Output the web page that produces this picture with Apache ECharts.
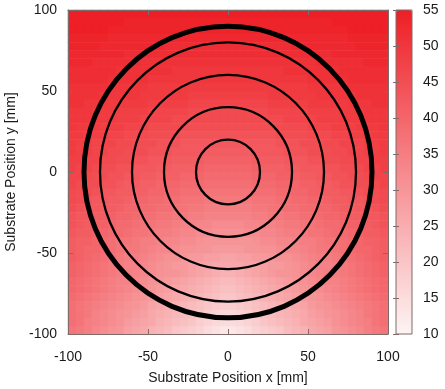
<!DOCTYPE html>
<html><head><meta charset="utf-8">
<script src="https://cdn.jsdelivr.net/npm/echarts@6/dist/echarts.min.js"></script>
<style>html,body{margin:0;padding:0;background:#fff}#c{width:445px;height:389px}</style>
</head><body><div id="c"></div>
<script>
// cell centres of the map (mm)
const xCenters = [-97.5,-92.5,-87.5,-82.5,-77.5,-72.5,-67.5,-62.5,-57.5,-52.5,-47.5,-42.5,-37.5,-32.5,-27.5,-22.5,-17.5,-12.5,-7.5,-2.5,
                  2.5,7.5,12.5,17.5,22.5,27.5,32.5,37.5,42.5,47.5,52.5,57.5,62.5,67.5,72.5,77.5,82.5,87.5,92.5,97.5];
const yCenters = [-97.5,-92.5,-87.5,-82.5,-77.5,-72.5,-67.5,-62.5,-57.5,-52.5,-47.5,-42.5,-37.5,-32.5,-27.5,-22.5,-17.5,-12.5,-7.5,-2.5,
                  2.5,7.5,12.5,17.5,22.5,27.5,32.5,37.5,42.5,47.5,52.5,57.5,62.5,67.5,72.5,77.5,82.5,87.5,92.5,97.5];
// estimated map values, one row per yCenters entry (bottom to top), left to right
const yM975 = [37,36,35,33,32,31,30,28,27,26,24,23,22,20,19,18,17,15,14,13,13,14,15,17,18,19,20,22,23,24,26,27,28,30,31,32,33,35,36,37];
const yM925 = [38,37,35,34,33,32,31,29,28,27,26,24,23,22,21,20,18,17,16,15,15,16,17,18,20,21,22,23,24,26,27,28,29,31,32,33,34,35,37,38];
const yM875 = [38,37,36,34,33,32,31,30,29,28,26,25,24,23,22,21,20,18,17,16,16,17,18,20,21,22,23,24,25,26,28,29,30,31,32,33,34,36,37,38];
const yM825 = [38,37,36,35,34,33,32,31,30,29,27,26,25,24,23,22,21,20,19,18,18,19,20,21,22,23,24,25,26,27,29,30,31,32,33,34,35,36,37,38];
const yM775 = [39,38,37,36,35,34,33,32,31,30,29,28,27,26,25,24,23,22,21,20,20,21,22,23,24,25,26,27,28,29,30,31,32,33,34,35,36,37,38,39];
const yM725 = [40,39,38,37,36,35,34,33,32,31,30,29,28,27,26,25,24,23,22,21,21,22,23,24,25,26,27,28,29,30,31,32,33,34,35,36,37,38,39,40];
const yM675 = [40,39,38,37,36,35,34,34,33,32,31,30,29,28,27,26,25,24,23,22,22,23,24,25,26,27,28,29,30,31,32,33,34,34,35,36,37,38,39,40];
const yM625 = [41,40,39,38,37,36,35,35,34,33,32,31,30,30,29,28,27,26,25,24,24,25,26,27,28,29,30,30,31,32,33,34,35,35,36,37,38,39,40,41];
const yM575 = [41,40,39,38,37,36,35,34,34,33,32,31,30,29,29,28,27,27,26,26,26,26,27,27,28,29,29,30,31,32,33,34,34,35,36,37,38,39,40,41];
const yM525 = [42,41,40,39,38,37,36,35,35,34,33,32,31,31,30,29,29,28,28,27,27,28,28,29,29,30,31,31,32,33,34,35,35,36,37,38,39,40,41,42];
const yM475 = [42,41,40,40,39,38,37,36,36,35,34,33,33,32,31,31,30,30,29,29,29,29,30,30,31,31,32,33,33,34,35,36,36,37,38,39,40,40,41,42];
const yM425 = [42,41,41,40,39,38,37,37,36,35,35,34,33,33,32,32,31,30,30,30,30,30,30,31,32,32,33,33,34,35,35,36,37,37,38,39,40,41,41,42];
const yM375 = [43,42,42,41,40,39,39,38,37,37,36,35,35,34,33,33,32,32,31,31,31,31,32,32,33,33,34,35,35,36,37,37,38,39,39,40,41,42,42,43];
const yM325 = [44,43,42,41,41,40,39,39,38,37,37,36,36,35,34,34,33,33,32,32,32,32,33,33,34,34,35,36,36,37,37,38,39,39,40,41,41,42,43,44];
const yM275 = [44,43,43,42,42,41,40,40,39,38,38,37,37,36,36,35,35,34,34,34,34,34,34,35,35,36,36,37,37,38,38,39,40,40,41,42,42,43,43,44];
const yM225 = [45,44,43,43,42,42,41,40,40,39,39,38,38,37,37,36,36,35,35,35,35,35,35,36,36,37,37,38,38,39,39,40,40,41,42,42,43,43,44,45];
const yM175 = [46,45,44,43,43,42,42,41,40,40,39,39,38,38,37,37,37,36,36,36,36,36,36,37,37,37,38,38,39,39,40,40,41,42,42,43,43,44,45,46];
const yM125 = [46,45,45,44,43,43,42,42,41,41,40,40,39,39,38,38,38,37,37,37,37,37,37,38,38,38,39,39,40,40,41,41,42,42,43,43,44,45,45,46];
const yM075 = [47,46,45,45,44,44,43,42,42,41,41,40,40,40,39,39,39,38,38,38,38,38,38,39,39,39,40,40,40,41,41,42,42,43,44,44,45,45,46,47];
const yM025 = [47,47,46,45,45,44,44,43,43,42,42,41,41,41,40,40,40,39,39,39,39,39,39,40,40,40,41,41,41,42,42,43,43,44,44,45,45,46,47,47];
const yP025 = [48,47,47,46,45,45,44,44,43,43,43,42,42,41,41,41,41,40,40,40,40,40,40,41,41,41,41,42,42,43,43,43,44,44,45,45,46,47,47,48];
const yP075 = [48,48,47,47,46,46,45,45,44,44,43,43,43,42,42,42,42,41,41,41,41,41,41,42,42,42,42,43,43,43,44,44,45,45,46,46,47,47,48,48];
const yP125 = [49,48,48,47,47,46,46,45,45,45,44,44,44,43,43,43,43,42,42,42,42,42,42,43,43,43,43,44,44,44,45,45,45,46,46,47,47,48,48,49];
const yP175 = [49,48,48,47,47,47,46,46,45,45,45,44,44,44,43,43,43,43,43,43,43,43,43,43,43,43,44,44,44,45,45,45,46,46,47,47,47,48,48,49];
const yP225 = [49,49,48,48,48,47,47,46,46,46,45,45,45,45,44,44,44,44,44,44,44,44,44,44,44,44,45,45,45,45,46,46,46,47,47,48,48,48,49,49];
const yP275 = [50,49,49,49,48,48,48,47,47,47,46,46,46,46,45,45,45,45,45,45,45,45,45,45,45,45,46,46,46,46,47,47,47,48,48,48,49,49,49,50];
const yP325 = [50,50,50,49,49,49,48,48,48,47,47,47,47,46,46,46,46,46,46,46,46,46,46,46,46,46,46,47,47,47,47,48,48,48,49,49,49,50,50,50];
const yP375 = [50,50,50,49,49,49,48,48,48,48,47,47,47,47,47,46,46,46,46,46,46,46,46,46,46,47,47,47,47,47,48,48,48,48,49,49,49,50,50,50];
const yP425 = [51,51,50,50,50,49,49,49,49,49,48,48,48,48,48,47,47,47,47,47,47,47,47,47,47,48,48,48,48,48,49,49,49,49,49,50,50,50,51,51];
const yP475 = [51,51,51,51,50,50,50,50,50,49,49,49,49,49,49,48,48,48,48,48,48,48,48,48,48,49,49,49,49,49,49,50,50,50,50,50,51,51,51,51];
const yP525 = [51,51,51,51,51,50,50,50,50,50,49,49,49,49,49,49,49,49,49,49,49,49,49,49,49,49,49,49,49,49,50,50,50,50,50,51,51,51,51,51];
const yP575 = [52,52,52,52,52,51,51,51,51,51,50,50,50,50,50,50,50,50,50,50,50,50,50,50,50,50,50,50,50,50,51,51,51,51,51,52,52,52,52,52];
const yP625 = [52,52,52,52,52,52,51,51,51,51,51,51,51,50,50,50,50,50,50,50,50,50,50,50,50,50,50,51,51,51,51,51,51,51,52,52,52,52,52,52];
const yP675 = [53,53,53,52,52,52,52,52,52,51,51,51,51,51,51,51,51,51,51,51,51,51,51,51,51,51,51,51,51,51,51,52,52,52,52,52,52,53,53,53];
const yP725 = [53,53,53,53,53,53,53,52,52,52,52,52,52,52,52,52,52,52,52,52,52,52,52,52,52,52,52,52,52,52,52,52,52,53,53,53,53,53,53,53];
const yP775 = [54,54,54,54,53,53,53,53,53,53,53,53,52,52,52,52,52,52,52,52,52,52,52,52,52,52,52,52,53,53,53,53,53,53,53,53,54,54,54,54];
const yP825 = [54,54,54,54,54,53,53,53,53,53,53,53,53,53,53,53,53,53,53,53,53,53,53,53,53,53,53,53,53,53,53,53,53,53,53,54,54,54,54,54];
const yP875 = [55,55,55,55,55,54,54,54,54,54,54,54,54,54,54,54,54,54,54,54,54,54,54,54,54,54,54,54,54,54,54,54,54,54,54,55,55,55,55,55];
const yP925 = [55,55,55,55,55,55,55,54,54,54,54,54,54,54,54,54,54,54,54,54,54,54,54,54,54,54,54,54,54,54,54,54,54,55,55,55,55,55,55,55];
const yP975 = [55,55,55,55,55,55,55,55,55,55,55,55,55,55,55,55,55,55,55,55,55,55,55,55,55,55,55,55,55,55,55,55,55,55,55,55,55,55,55,55];
const rows = [yM975,yM925,yM875,yM825,yM775,yM725,yM675,yM625,yM575,yM525,yM475,yM425,yM375,yM325,yM275,yM225,yM175,yM125,yM075,yM025,
              yP025,yP075,yP125,yP175,yP225,yP275,yP325,yP375,yP425,yP475,yP525,yP575,yP625,yP675,yP725,yP775,yP825,yP875,yP925,yP975];
// circles: centre (mm) and radius (mm)
const ringCenter = [0, 0];
const thinRadii = [20, 40, 60, 80];
const thickRadii = [90];
// axes
const posMin = -100, posMax = 100, posStep = 50;
const valMin = 10, valMax = 55, valStep = 5;
const xTitle = 'Substrate Position x [mm]';
const yTitle = 'Substrate Position y [mm]';

const heatData = [];
rows.forEach((row, j) => row.forEach((v, i) => heatData.push([i, j, v])));
const ring = r => [ringCenter[0], ringCenter[1], r];

const frame = '#806a6a';
const font = "'Liberation Sans', Arial, Helvetica, sans-serif";
const lbl = {color: '#1a1a1a', fontSize: 14, fontFamily: font};

function ringRenderer(width) {
  return function (params, api) {
    const c = api.coord([api.value(0), api.value(1)]);
    const s = api.size([api.value(2), api.value(2)]);
    return {type: 'ellipse', shape: {cx: c[0], cy: c[1], rx: s[0], ry: s[1]},
            style: {fill: 'none', stroke: '#000', lineWidth: width}};
  };
}

const chart = echarts.init(document.getElementById('c'), null, {renderer: 'canvas'});
chart.setOption({
  animation: false,
  backgroundColor: '#fff',
  textStyle: {fontFamily: font},
  grid: [
    {left: 68, top: 10, width: 320, height: 324, containLabel: false, outerBoundsMode: 'none'},
    {left: 68, top: 10, width: 320, height: 324, z: 6, containLabel: false, outerBoundsMode: 'none'},
    {left: 396, top: 10, width: 16, height: 324, show: true, borderColor: frame, borderWidth: 1, backgroundColor: 'transparent', z: 10,
     containLabel: false, outerBoundsMode: 'none'}
  ],
  xAxis: [
    {type: 'category', gridIndex: 0, data: xCenters, show: false},
    {type: 'value', gridIndex: 1, min: posMin, max: posMax, interval: posStep, position: 'bottom', z: 6,
     axisLine: {show: true, onZero: false, lineStyle: {color: frame, width: 1}},
     axisTick: {show: true, inside: true, length: 5, lineStyle: {color: frame}},
     axisLabel: Object.assign({margin: 16}, lbl), splitLine: {show: false},
     name: xTitle, nameLocation: 'middle', nameGap: 37, nameTextStyle: lbl},
    {type: 'value', gridIndex: 1, min: posMin, max: posMax, interval: posStep, position: 'top', z: 6,
     axisLine: {show: true, onZero: false, lineStyle: {color: frame, width: 1}},
     axisTick: {show: true, inside: true, length: 5, lineStyle: {color: frame}},
     axisLabel: {show: false}, splitLine: {show: false}},
    {type: 'value', gridIndex: 2, show: false, min: 0, max: 1}
  ],
  yAxis: [
    {type: 'category', gridIndex: 0, data: yCenters, show: false},
    {type: 'value', gridIndex: 1, min: posMin, max: posMax, interval: posStep, position: 'left', z: 6,
     axisLine: {show: true, onZero: false, lineStyle: {color: frame, width: 1}},
     axisTick: {show: true, inside: true, length: 5, lineStyle: {color: frame}},
     axisLabel: Object.assign({margin: 11}, lbl), splitLine: {show: false},
     name: yTitle, nameLocation: 'middle', nameGap: 41, nameRotate: 90, nameTextStyle: lbl},
    {type: 'value', gridIndex: 1, min: posMin, max: posMax, interval: posStep, position: 'right', z: 6,
     axisLine: {show: true, onZero: false, lineStyle: {color: frame, width: 1}},
     axisTick: {show: true, inside: true, length: 5, lineStyle: {color: frame}},
     axisLabel: {show: false}, splitLine: {show: false}},
    {type: 'value', gridIndex: 2, min: valMin, max: valMax, interval: valStep, position: 'right', z: 11,
     axisLine: {show: false},
     axisTick: {show: true, inside: true, length: 3, lineStyle: {color: frame}},
     axisLabel: Object.assign({margin: 11}, lbl), splitLine: {show: false}},
    {type: 'value', gridIndex: 2, min: valMin, max: valMax, interval: valStep, position: 'left', z: 11,
     axisLine: {show: false},
     axisTick: {show: true, inside: true, length: 3, lineStyle: {color: frame}},
     axisLabel: {show: false}, splitLine: {show: false}}
  ],
  visualMap: {
    type: 'continuous', min: valMin, max: valMax, seriesIndex: 0,
    show: true, calculable: false, hoverLink: false, orient: 'vertical',
    left: 396, top: 10, itemWidth: 16, itemHeight: 324, padding: 0,
    inRange: {color: ['#fdf4f4', '#ee1f26']}
  },
  series: [
    {type: 'heatmap', xAxisIndex: 0, yAxisIndex: 0, data: heatData, silent: true,
     itemStyle: {borderWidth: 0}, emphasis: {disabled: true}, progressive: 0},
    {type: 'custom', xAxisIndex: 1, yAxisIndex: 1, z: 3, silent: true,
     data: thinRadii.map(ring), encode: {x: 0, y: 1}, renderItem: ringRenderer(2.3)},
    {type: 'custom', xAxisIndex: 1, yAxisIndex: 1, z: 3, silent: true,
     data: thickRadii.map(ring), encode: {x: 0, y: 1}, renderItem: ringRenderer(5)}
  ]
});
</script></body></html>
